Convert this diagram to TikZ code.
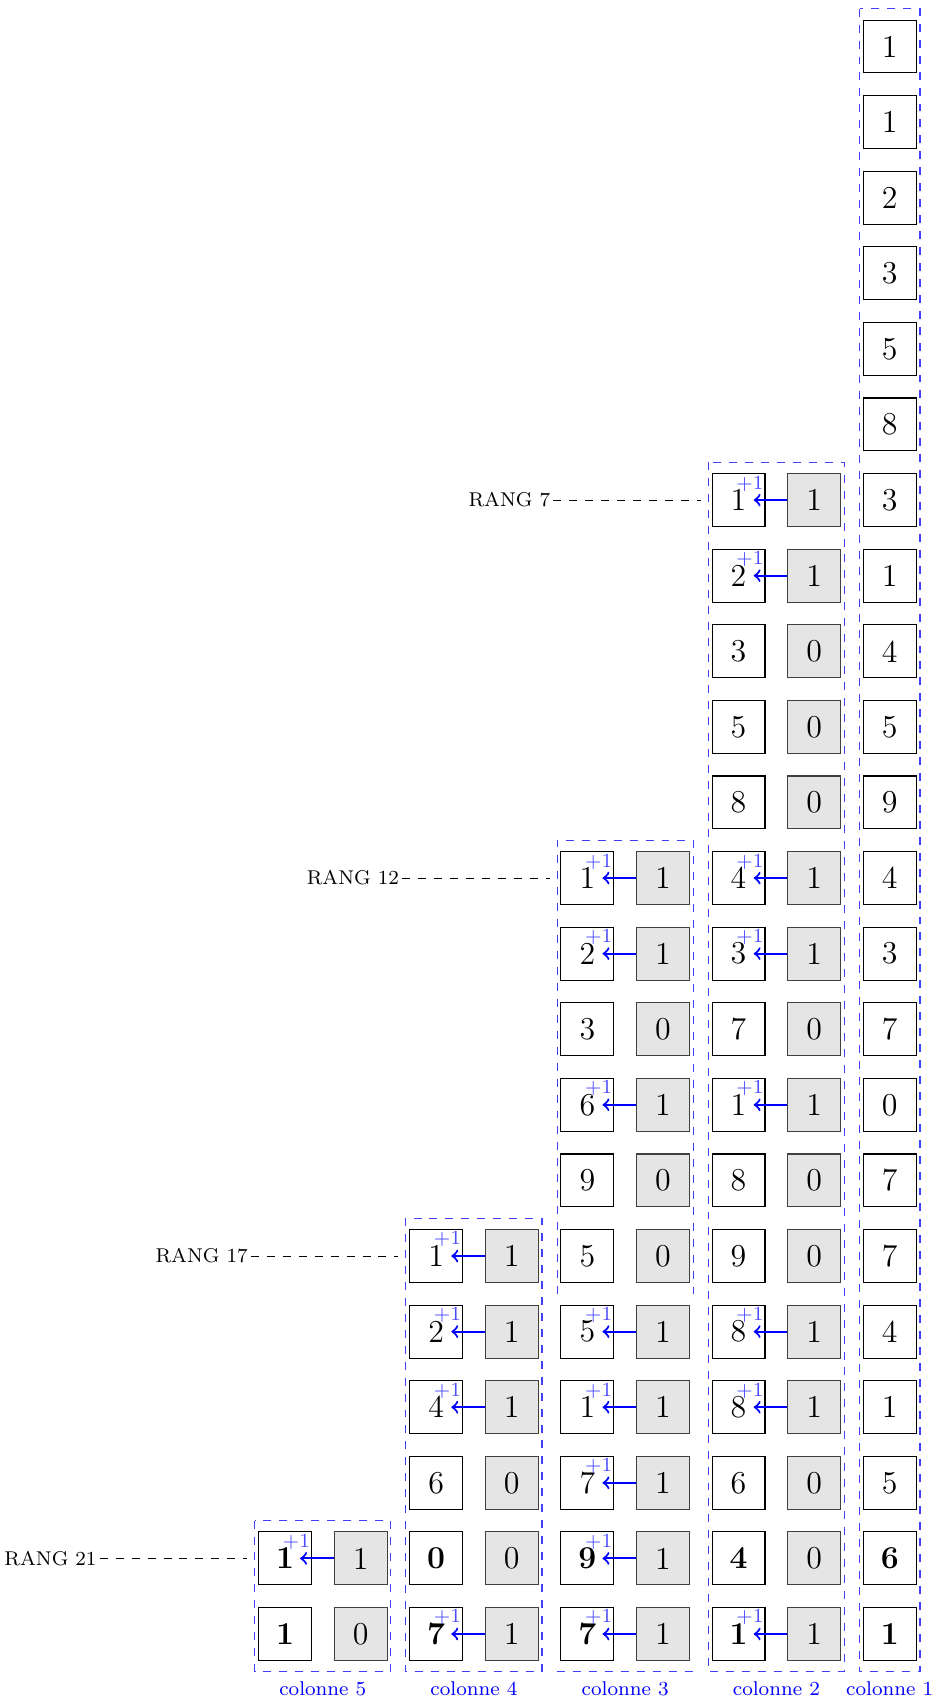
\documentclass[tikz,border=0pt]{standalone}
\usetikzlibrary{calc}
\begin{document}
\begin{tikzpicture}[
  cell/.style={draw=black, minimum size=0.7cm, inner sep=0pt, font=\large},
  gcell/.style={cell, draw=black!75, fill=gray!20},
  carry/.style={->, blue, thick, shorten >=0.2cm},
  plus/.style={text=blue!70, font=\fontsize{7.5}{9}\selectfont, inner sep=0pt},
  frame/.style={blue!75, dashed},
  rang/.style={font=\fontsize{7.5}{9}\selectfont, anchor=east, inner sep=1pt},
  coltitle/.style={text=blue, font=\fontsize{7.5}{9}\selectfont, anchor=north},
  guide/.style={dashed, black}
]
\useasboundingbox (-11.77,0.615) rectangle (0.66,-21.86);

% column 1
\foreach \v [count=\i from 0] in {1,1,2,3,5,8,3,1,4,5,9,4,3,7,0,7,7,4,1,5,\textbf{6},\textbf{1}}
  \node[cell] (c1-\i) at (0,-\i) {\v};

% column 2
\foreach \r/\w/\g/\a in {6/1/1/1, 7/2/1/1, 8/3/0/0, 9/5/0/0, 10/8/0/0, 11/4/1/1, 12/3/1/1, 13/7/0/0, 14/1/1/1, 15/8/0/0, 16/9/0/0, 17/8/1/1, 18/8/1/1, 19/6/0/0, 20/\textbf{4}/0/0, 21/\textbf{1}/1/1}{
  \node[cell] (w2-\r) at (-2,-\r) {\w};
  \node[gcell] (g2-\r) at (-1,-\r) {\g};
  \ifnum\a=1
    \draw[carry] (g2-\r.west) -- (w2-\r.center);
    \node[plus] (p2-\r) at ($(w2-\r.center)+(0.15,0.22)$) {+1};
  \fi
}

% column 3
\foreach \r/\w/\g/\a in {11/1/1/1, 12/2/1/1, 13/3/0/0, 14/6/1/1, 15/9/0/0, 16/5/0/0, 17/5/1/1, 18/1/1/1, 19/7/1/1, 20/\textbf{9}/1/1, 21/\textbf{7}/1/1}{
  \node[cell] (w3-\r) at (-4,-\r) {\w};
  \node[gcell] (g3-\r) at (-3,-\r) {\g};
  \ifnum\a=1
    \draw[carry] (g3-\r.west) -- (w3-\r.center);
    \node[plus] (p3-\r) at ($(w3-\r.center)+(0.15,0.22)$) {+1};
  \fi
}

% column 4
\foreach \r/\w/\g/\a in {16/1/1/1, 17/2/1/1, 18/4/1/1, 19/6/0/0, 20/\textbf{0}/0/0, 21/\textbf{7}/1/1}{
  \node[cell] (w4-\r) at (-6,-\r) {\w};
  \node[gcell] (g4-\r) at (-5,-\r) {\g};
  \ifnum\a=1
    \draw[carry] (g4-\r.west) -- (w4-\r.center);
    \node[plus] (p4-\r) at ($(w4-\r.center)+(0.15,0.22)$) {+1};
  \fi
}

% column 5
\foreach \r/\w/\g/\a in {20/\textbf{1}/1/1, 21/\textbf{1}/0/0}{
  \node[cell] (w5-\r) at (-8,-\r) {\w};
  \node[gcell] (g5-\r) at (-7,-\r) {\g};
  \ifnum\a=1
    \draw[carry] (g5-\r.west) -- (w5-\r.center);
    \node[plus] (p5-\r) at ($(w5-\r.center)+(0.15,0.22)$) {+1};
  \fi
}

% frames
\draw[frame] (-0.4,0.5) rectangle (0.4,-21.5);
\draw[frame] (-2.4,-5.5) rectangle (-0.6,-21.5);
\draw[frame] (-4.4,-16.5) -- (-4.4,-10.5) -- (-2.6,-10.5) -- (-2.6,-16.5);
\draw[frame] (-4.4,-21.5) -- (-2.6,-21.5);
\draw[frame] (-6.4,-15.5) rectangle (-4.6,-21.5);
\draw[frame] (-8.4,-19.5) rectangle (-6.6,-21.5);

% column titles
\node[coltitle] (t1) at (0,-21.5) {colonne 1};
\node[coltitle] (t2) at (-1.5,-21.5) {colonne 2};
\node[coltitle] (t3) at (-3.5,-21.5) {colonne 3};
\node[coltitle] (t4) at (-5.5,-21.5) {colonne 4};
\node[coltitle] (t5) at (-7.5,-21.5) {colonne 5};

% rank labels
\node[rang] (R7) at (-4.45,-6) {RANG 7};
\coordinate (e7) at (-2.5,-6);
\draw[guide] (R7.east) -- (e7);
\node[rang] (R12) at (-6.45,-11) {RANG 12};
\coordinate (e12) at (-4.5,-11);
\draw[guide] (R12.east) -- (e12);
\node[rang] (R17) at (-8.45,-16) {RANG 17};
\coordinate (e17) at (-6.5,-16);
\draw[guide] (R17.east) -- (e17);
\node[rang] (R21) at (-10.45,-20) {RANG 21};
\coordinate (e21) at (-8.5,-20);
\draw[guide] (R21.east) -- (e21);
\end{tikzpicture}
\end{document}
